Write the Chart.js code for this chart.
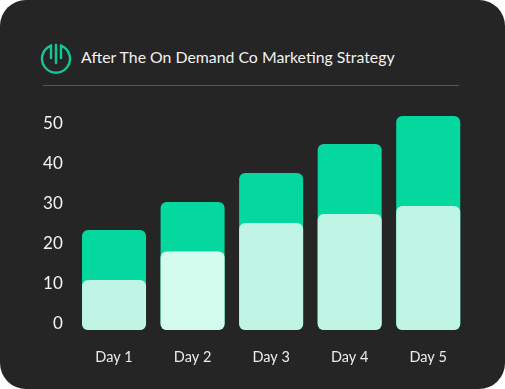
<!DOCTYPE html>
<html>
<head>
<meta charset="utf-8">
<title>After The On Demand Co Marketing Strategy</title>
<script src="https://cdn.jsdelivr.net/npm/chart.js@4"></script>
<style>
  html, body { margin: 0; padding: 0; background: #fff; }
  #card {
    position: relative;
    width: 505px;
    height: 389px;
    background: #252525;
    border-radius: 26px;
    overflow: hidden;
    font-family: Lato, sans-serif;
  }
  #icon { position: absolute; left: 40px; top: 43px; }
  #title {
    position: absolute;
    left: 81px;
    top: 46px;
    line-height: 22px;
    font-size: 15.85px;
    color: #f2f2f2;
    white-space: nowrap;
  }
  #rule { position: absolute; left: 43px; top: 85px; width: 416px; height: 1px; background: #555; }
  #chart { position: absolute; left: 0; top: 0; }
</style>
</head>
<body>
<div id="card">
  <svg id="icon" width="32" height="32" viewBox="0 0 32 32" fill="none" stroke="#12c795" stroke-width="2.4" stroke-linecap="round">
    <path d="M11 2.6 A14 14 0 1 0 21 2.6"/>
    <path d="M11 2.6 V15"/>
    <path d="M16 2 V20"/>
    <path d="M21 2.6 V15"/>
  </svg>
  <div id="title">After The On Demand Co Marketing Strategy</div>
  <div id="rule"></div>
  <canvas id="chart" width="505" height="389"></canvas>
</div>
<script>
const days = ["Day 1", "Day 2", "Day 3", "Day 4", "Day 5"];
const totalValues = [25, 32, 39.25, 46.5, 53.5];
const frontValues = [12.5, 19.6, 26.75, 29, 31];
const yTicks = [0, 10, 20, 30, 40, 50];

const frontColors = ["#c0f5e6", "#d3fcef", "#c0f5e6", "#c0f5e6", "#c0f5e6"];

new Chart(document.querySelector("#chart"), {
  type: "bar",
  data: {
    labels: days,
    datasets: [
      { data: frontValues, backgroundColor: frontColors, order: 1 },
      { data: totalValues, backgroundColor: "#05d89f", order: 2 },
    ],
  },
  options: {
    responsive: false,
    animation: { duration: 0 },
    grouped: false,
    barPercentage: 1,
    categoryPercentage: 0.815,
    borderRadius: 6,
    borderSkipped: false,
    layout: { padding: { top: 110, right: 37.5 } },
    plugins: { legend: { display: false }, tooltip: { enabled: false } },
    scales: {
      x: {
        grid: { display: false, drawTicks: false },
        border: { display: false },
        ticks: { color: "#ececec", font: { family: "Lato", size: 14.5 }, padding: 19 },
        afterFit: (axis) => { axis.height = 59; },
      },
      y: {
        min: 0,
        max: 55,
        grid: { display: false, drawTicks: false },
        border: { display: false },
        afterBuildTicks: (axis) => { axis.ticks = yTicks.map((value) => ({ value })); },
        // the labels sit a little above the real gridline positions in the original
        ticks: { color: "#f4f4f4", font: { family: "Lato", size: 17 }, padding: 12, labelOffset: -6.5 },
        afterFit: (axis) => { axis.width = 74.75; },
      },
    },
  },
});
</script>
</body>
</html>
